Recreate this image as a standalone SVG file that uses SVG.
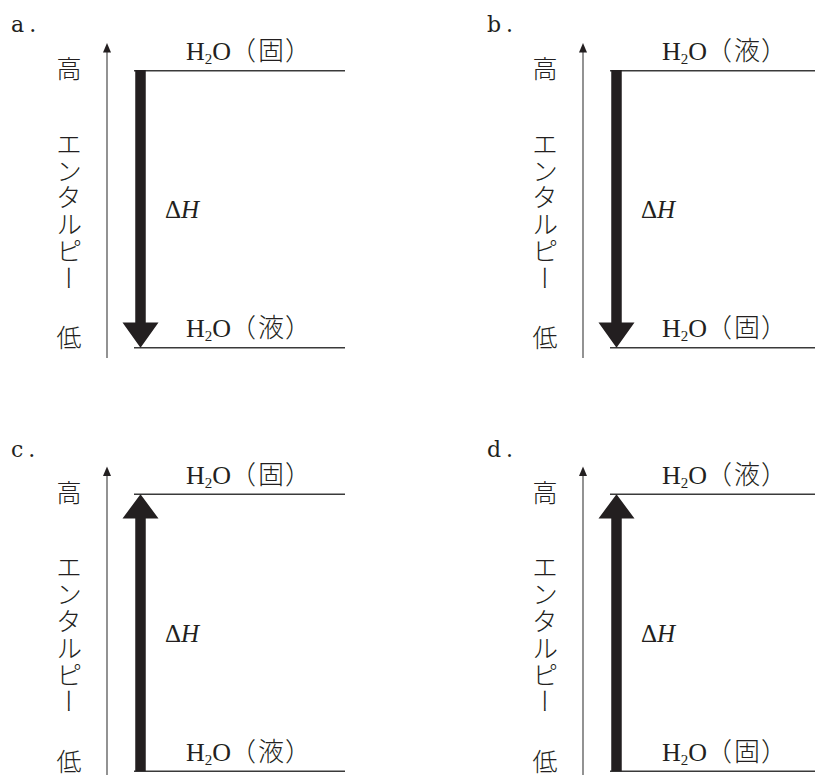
<svg xmlns="http://www.w3.org/2000/svg" width="815" height="775" viewBox="0 0 815 775">
<defs>
<style>
.bg{fill:#ffffff}
.lbl{font-family:"DejaVu Serif","Liberation Serif",serif;font-size:22px;fill:#231f20}
.chem{font-family:"Liberation Serif","Noto Sans CJK JP",serif;font-size:26px;fill:#231f20}
.sub{font-size:15px}
.cj{font-family:"Noto Sans CJK JP",sans-serif;font-weight:300}
.cjk{font-family:"Noto Sans CJK JP",sans-serif;font-size:25px;font-weight:300;fill:#231f20}
.vert{font-family:"Noto Sans CJK JP",sans-serif;font-size:26px;letter-spacing:0.8px;font-weight:300;fill:#231f20}
.dh{font-family:"Liberation Serif",serif;font-size:25px;fill:#231f20}
.level{stroke:#3a3a3a;stroke-width:1.4;fill:none}
.axis{stroke:#3a3a3a;stroke-width:1.1;fill:none}
.axhead{fill:#231f20}
.big{fill:#231f20}
</style>
<g id="axisTpl">
<line class="axis" x1="107" y1="358" x2="107" y2="50"/>
<polygon class="axhead" points="107,43 103,52.5 111,52.5"/>
<text class="cjk" x="69" y="78" text-anchor="middle">高</text>
<text class="vert" x="69" y="131" writing-mode="vertical-rl" fill="#231f20">エンタルピー</text>
<text class="cjk" x="69" y="347" text-anchor="middle">低</text>
<text class="dh" x="165" y="218.3">Δ<tspan font-style="italic">H</tspan></text>
</g>
</defs>
<rect class="bg" x="0" y="0" width="815" height="775"/>

<g id="panel-a">
<text class="lbl" x="11" y="32">a<tspan dx="5">.</tspan></text>
<use href="#axisTpl"/>
<g id="a-top"><line class="level" x1="134" y1="70.7" x2="345" y2="70.7"/>
<text class="chem" x="186" y="60">H<tspan class="sub" dy="4">2</tspan><tspan dy="-4">O</tspan><tspan class="cj" x="230">（</tspan><tspan class="cj" x="258">固</tspan><tspan class="cj" x="285">）</tspan></text></g>
<g id="a-bottom"><line class="level" x1="134" y1="347.7" x2="345" y2="347.7"/>
<text class="chem" x="186" y="337">H<tspan class="sub" dy="4">2</tspan><tspan dy="-4">O</tspan><tspan class="cj" x="230">（</tspan><tspan class="cj" x="258">液</tspan><tspan class="cj" x="285">）</tspan></text></g>
<g id="a-connectors"><path class="big" d="M135.25,70 L145.75,70 L145.75,322.5 L158.5,322.5 L140.5,347.7 L122.5,322.5 L135.25,322.5 Z"/></g>
</g>

<g id="panel-b" transform="translate(476,0)">
<text class="lbl" x="11" y="32">b<tspan dx="5">.</tspan></text>
<use href="#axisTpl"/>
<g id="b-top"><line class="level" x1="134" y1="70.7" x2="345" y2="70.7"/>
<text class="chem" x="186" y="60">H<tspan class="sub" dy="4">2</tspan><tspan dy="-4">O</tspan><tspan class="cj" x="230">（</tspan><tspan class="cj" x="258">液</tspan><tspan class="cj" x="285">）</tspan></text></g>
<g id="b-bottom"><line class="level" x1="134" y1="347.7" x2="345" y2="347.7"/>
<text class="chem" x="186" y="337">H<tspan class="sub" dy="4">2</tspan><tspan dy="-4">O</tspan><tspan class="cj" x="230">（</tspan><tspan class="cj" x="258">固</tspan><tspan class="cj" x="285">）</tspan></text></g>
<g id="b-connectors"><path class="big" d="M135.25,70 L145.75,70 L145.75,322.5 L158.5,322.5 L140.5,347.7 L122.5,322.5 L135.25,322.5 Z"/></g>
</g>

<g id="panel-c" transform="translate(0,423.5)">
<text class="lbl" x="11" y="33">c<tspan dx="5">.</tspan></text>
<use href="#axisTpl"/>
<g id="c-top"><line class="level" x1="134" y1="70.7" x2="345" y2="70.7"/>
<text class="chem" x="186" y="60">H<tspan class="sub" dy="4">2</tspan><tspan dy="-4">O</tspan><tspan class="cj" x="230">（</tspan><tspan class="cj" x="258">固</tspan><tspan class="cj" x="285">）</tspan></text></g>
<g id="c-bottom"><line class="level" x1="134" y1="347.7" x2="345" y2="347.7"/>
<text class="chem" x="186" y="337">H<tspan class="sub" dy="4">2</tspan><tspan dy="-4">O</tspan><tspan class="cj" x="230">（</tspan><tspan class="cj" x="258">液</tspan><tspan class="cj" x="285">）</tspan></text></g>
<g id="c-connectors"><path class="big" d="M135.25,347.7 L145.75,347.7 L145.75,95 L158.5,95 L140.5,70.7 L122.5,95 L135.25,95 Z"/></g>
</g>

<g id="panel-d" transform="translate(476,423.5)">
<text class="lbl" x="11" y="33">d<tspan dx="5">.</tspan></text>
<use href="#axisTpl"/>
<g id="d-top"><line class="level" x1="134" y1="70.7" x2="345" y2="70.7"/>
<text class="chem" x="186" y="60">H<tspan class="sub" dy="4">2</tspan><tspan dy="-4">O</tspan><tspan class="cj" x="230">（</tspan><tspan class="cj" x="258">液</tspan><tspan class="cj" x="285">）</tspan></text></g>
<g id="d-bottom"><line class="level" x1="134" y1="347.7" x2="345" y2="347.7"/>
<text class="chem" x="186" y="337">H<tspan class="sub" dy="4">2</tspan><tspan dy="-4">O</tspan><tspan class="cj" x="230">（</tspan><tspan class="cj" x="258">固</tspan><tspan class="cj" x="285">）</tspan></text></g>
<g id="d-connectors"><path class="big" d="M135.25,347.7 L145.75,347.7 L145.75,95 L158.5,95 L140.5,70.7 L122.5,95 L135.25,95 Z"/></g>
</g>
</svg>
